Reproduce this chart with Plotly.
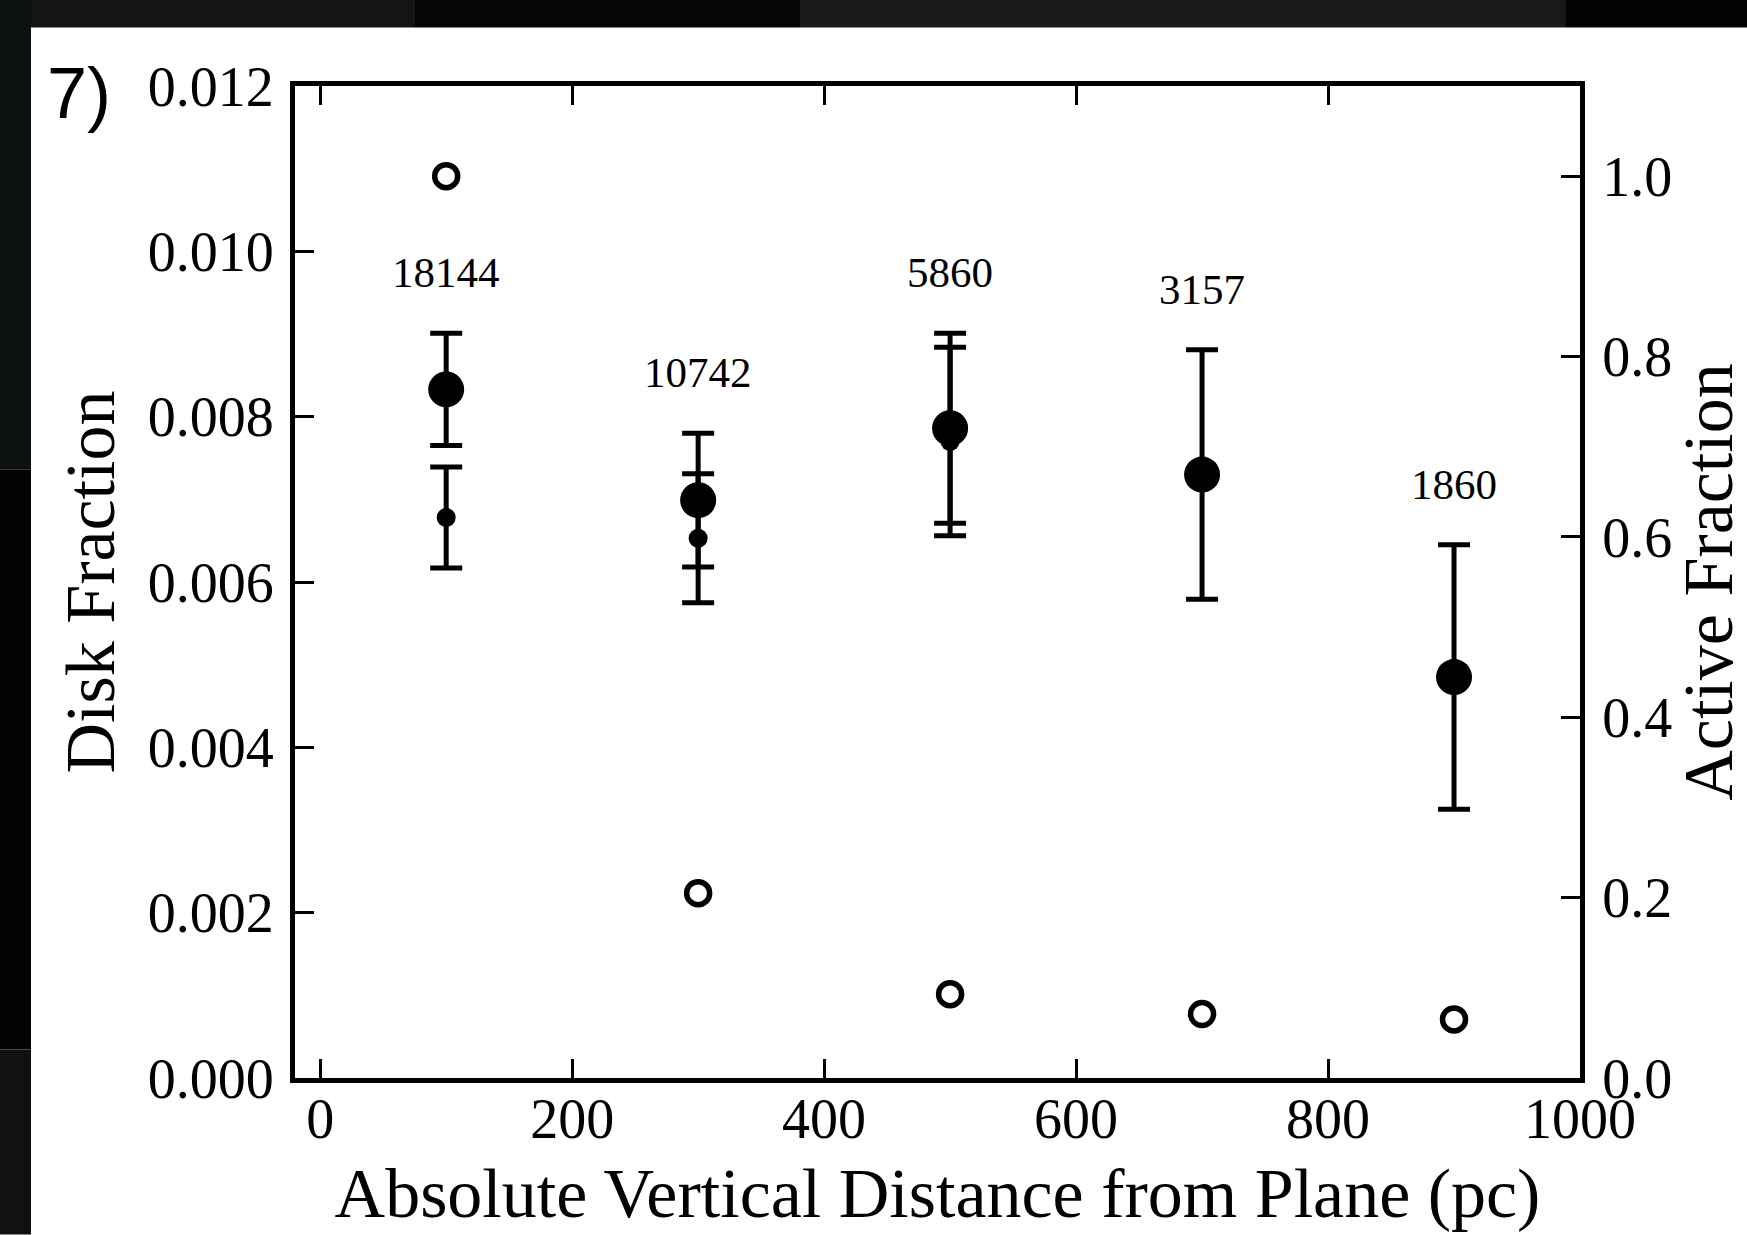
import plotly.graph_objects as go

# ---------------- data ----------------
distance = [100, 300, 500, 700, 900]                      # pc
disk_fraction = [0.00833, 0.00699, 0.00786, 0.00730, 0.00485]
disk_fraction_err = [0.00068, 0.00081, 0.00115, 0.00151, 0.00160]

distance_sub = [100, 300, 500]
disk_fraction_sub = [0.00678, 0.00653, 0.00770]
disk_fraction_sub_err = [0.00061, 0.00078, 0.00114]

active_fraction = [1.0, 0.205, 0.093, 0.071, 0.065]
sample_counts = ["18144", "10742", "5860", "3157", "1860"]

x_ticks = [0, 200, 400, 600, 800, 1000]
y_ticks = [0.000, 0.002, 0.004, 0.006, 0.008, 0.010, 0.012]
y2_ticks = [0.0, 0.2, 0.4, 0.6, 0.8, 1.0]

# ---------------- style ----------------
W, H = 1747, 1235
PL, PR, PT, PB = 295, 1580, 86, 1078.5        # plot area in page px
ML, MR, MT, MB = PL, W - PR, PT, H - PB
SERIF = "Liberation Serif, Times New Roman, serif"
LABEL_OFFSET = 0.00073

pw, ph = PR - PL, PB - PT
def px_to_paper_x(px):
    return (px - PL) / pw
def px_to_paper_y(py):
    return (PB - py) / ph

fig = go.Figure()

fig.add_trace(go.Scatter(
    x=distance_sub, y=disk_fraction_sub, mode="markers",
    marker=dict(size=19, color="black"),
    error_y=dict(type="data", array=disk_fraction_sub_err, color="black",
                 thickness=5, width=16),
    showlegend=False, hoverinfo="skip"))

fig.add_trace(go.Scatter(
    x=distance, y=disk_fraction, mode="markers",
    marker=dict(size=36, color="black"),
    error_y=dict(type="data", array=disk_fraction_err, color="black",
                 thickness=5, width=16),
    showlegend=False))

fig.add_trace(go.Scatter(
    x=distance, y=active_fraction, mode="markers", yaxis="y2",
    marker=dict(size=23, color="white", line=dict(color="black", width=5.5)),
    showlegend=False))

for xv, yv, ev, lab in zip(distance, disk_fraction, disk_fraction_err, sample_counts):
    fig.add_annotation(x=xv, y=yv + ev + LABEL_OFFSET, text=lab, showarrow=False,
                       xref="x", yref="y", font=dict(family=SERIF, size=43, color="black"),
                       xanchor="center", yanchor="middle")

# panel label
fig.add_annotation(x=px_to_paper_x(79), y=px_to_paper_y(93),
                   xref="paper", yref="paper", text="7)", showarrow=False,
                   font=dict(family="Liberation Sans, Arial, sans-serif", size=72, color="black"),
                   xanchor="center", yanchor="middle")

# dark photo border (top & left)
border_rects = [
    (0, 0, 415, 27.5, "#141414"),
    (415, 0, 800, 27.5, "#050505"),
    (800, 0, 1566, 27.5, "#191919"),
    (1566, 0, 1747, 27.5, "#020202"),
    (0, 0, 31, 470, "#0e1111"),
    (0, 470, 31, 1050, "#040404"),
    (0, 1050, 31, 1235, "#12110f"),
]
for x0, y0, x1, y1, col in border_rects:
    fig.add_shape(type="rect", xref="paper", yref="paper",
                  x0=px_to_paper_x(x0), x1=px_to_paper_x(x1),
                  y0=px_to_paper_y(y1), y1=px_to_paper_y(y0),
                  fillcolor=col, line=dict(width=0), layer="above")

axis_common = dict(showgrid=False, zeroline=False, ticks="inside", ticklen=19,
                   tickwidth=3, tickcolor="black", showline=True, linewidth=5,
                   linecolor="black", automargin=False,
                   tickfont=dict(family=SERIF, size=56, color="black"))

fig.update_layout(
    width=W, height=H,
    margin=dict(l=ML, r=MR, t=MT, b=MB, pad=0, autoexpand=False),
    paper_bgcolor="white", plot_bgcolor="white",
    xaxis=dict(range=[-20, 1000], tickvals=x_ticks, mirror="ticks",
               ticklabelstandoff=-12,
               title=dict(text="Absolute Vertical Distance from Plane (pc)",
                          font=dict(family=SERIF, size=70, color="black"), standoff=20),
               **axis_common),
    yaxis=dict(range=[0, 0.012], tickvals=y_ticks, tickformat=".3f", mirror=True,
               ticklabelstandoff=5,
               title=dict(text="Disk Fraction",
                          font=dict(family=SERIF, size=70, color="black"), standoff=12),
               **axis_common),
    yaxis2=dict(range=[0, 1.1], tickvals=y2_ticks, tickformat=".1f", overlaying="y",
                side="right", ticklabelstandoff=6,
                title=dict(text="Active Fraction",
                           font=dict(family=SERIF, size=70, color="black"), standoff=40),
                **axis_common),
)

# remove the default page margin so the figure fills the window exactly
fig.write_html("out.html",
               config={"displayModeBar": False},
               post_script="document.body.style.margin='0px';"
                           "document.body.style.overflow='hidden';")
